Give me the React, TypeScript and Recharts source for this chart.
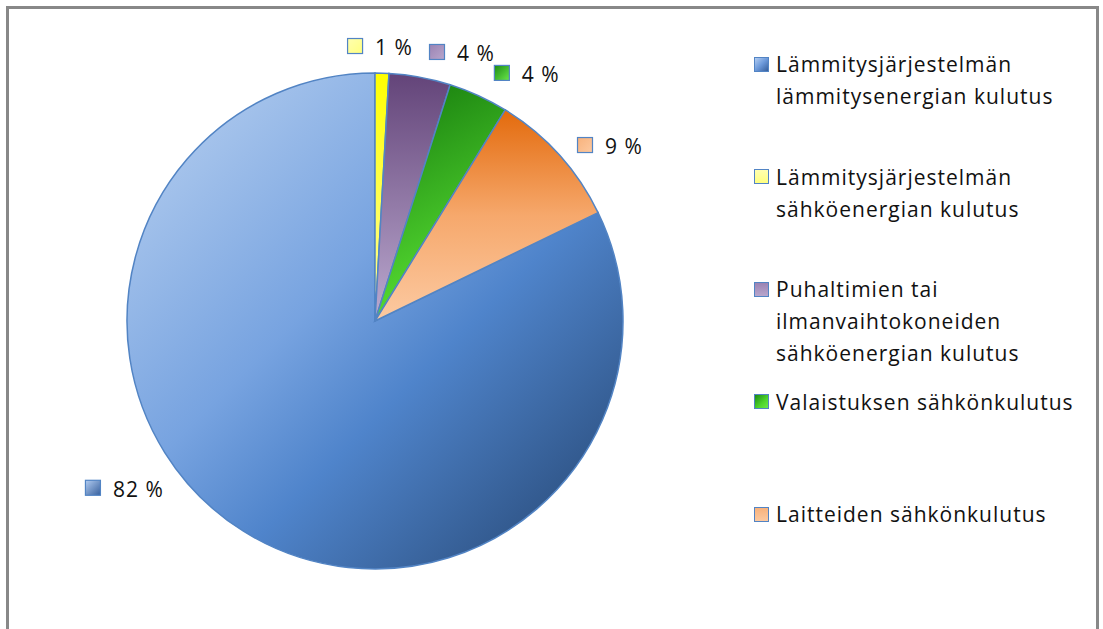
import React from 'react';
import { PieChart, Pie, Cell, Legend } from 'recharts';

const NAMES = [
  'Lämmitysjärjestelmän lämmitysenergian kulutus',
  'Lämmitysjärjestelmän sähköenergian kulutus',
  'Puhaltimien tai ilmanvaihtokoneiden sähköenergian kulutus',
  'Valaistuksen sähkönkulutus',
  'Laitteiden sähkönkulutus',
];
const VALUES = [82.2, 0.9, 4.0, 3.9, 9.0];
const LABELS = ['82 %', '1 %', '4 %', '4 %', '9 %'];

// slice gradients (top -> bottom of each slice)
const SLICE_GRADS = [
  { id: 'g-blue', x2: 1, y2: 1, stops: [['0', '#bcd3f1'], ['0.42', '#77a3e0'], ['0.6', '#4f84cb'], ['1', '#22416b']] },
  { id: 'g-yellow', x2: 0, y2: 1, stops: [['0', '#ffff00'], ['1', '#ffffa0']] },
  { id: 'g-purple', x2: 0, y2: 1, stops: [['0', '#634479'], ['1', '#bcaad0']] },
  { id: 'g-green', x2: 0.3, y2: 1, stops: [['0', '#14780c'], ['1', '#5ae234']] },
  { id: 'g-orange', x2: 0, y2: 1, stops: [['0', '#e36a0c'], ['0.5', '#f6a86c'], ['1', '#fccaa2']] },
];
const MARKER_BG = [
  'linear-gradient(135deg, #b3cdf2 0%, #6c99da 50%, #365f9c 100%)',
  'linear-gradient(180deg, #ffffb0 0%, #ffff80 100%)',
  'linear-gradient(180deg, #9b83b3 0%, #b8a6cc 100%)',
  'linear-gradient(135deg, #1c8a14 0%, #4fd52c 60%, #6ae84a 100%)',
  'linear-gradient(180deg, #f8b27c 0%, #fcc9a0 100%)',
];
const MARKER_GRAD = [
  ['#b3cdf2', '#365f9c'],
  ['#ffffb0', '#ffff80'],
  ['#9b83b3', '#b8a6cc'],
  ['#1c8a14', '#6ae84a'],
  ['#f8b27c', '#fcc9a0'],
];
// label placement (left-middle of the marker): [angle in degrees, distance from centre]
const LABEL_POS = [
  [-150.1, 334.6],
  [95.8, 276.4],
  [78.65, 274.4],
  [64.4, 275.1],
  [41.06, 267.9],
];

const data = NAMES.map((name, i) => ({ name, value: VALUES[i] }));
const total = VALUES.reduce((a, b) => a + b, 0);
const START = 90 - 360 * (1 - VALUES[0] / total);

const FONT = '"Open Sans", sans-serif';
const STROKE = '#5284c4';

const renderLabel = ({ cx, cy, index }: any) => {
  const [ang, r] = LABEL_POS[index];
  const rad = (ang * Math.PI) / 180;
  const left = cx + r * Math.cos(rad);
  const y = cy - r * Math.sin(rad);
  return (
    <g key={`lbl-${index}`}>
      <rect x={left + 0.5} y={y - 7.5} width={15} height={15} fill={`url(#m-grad-${index})`} stroke={STROKE} strokeWidth={1.2} />
      <text x={left + 28} y={y + 1} dominantBaseline="central" fontSize={21} fontFamily={FONT} fill="#111" letterSpacing={1}>
        {LABELS[index]}
      </text>
    </g>
  );
};

const renderLegend = () => (
  <div style={{ fontFamily: FONT, fontSize: 21, letterSpacing: 1, color: '#111' }}>
    {NAMES.map((name, i) => (
      <div key={name} style={{ position: 'relative', height: 112.5, paddingLeft: 22 }}>
        <span
          style={{
            position: 'absolute',
            left: 0,
            top: 8.5,
            width: 13,
            height: 13,
            background: MARKER_BG[i],
            border: `1px solid ${STROKE}`,
          }}
        />
        <div style={{ width: 320, lineHeight: '32px' }}>{name}</div>
      </div>
    ))}
  </div>
);

export default function App() {
  return (
    <div style={{ position: 'absolute', left: 0, top: 0, width: 1103, height: 629, overflow: 'hidden', background: '#fff' }}>
      <div style={{ position: 'absolute', left: 6, top: 6, width: 1087, height: 700, border: '3px solid #888' }} />
      <PieChart
        width={1103}
        height={629}
        margin={{ top: 0, right: 0, bottom: 0, left: 0 }}
        style={{ position: 'absolute', left: 0, top: 0 }}
      >
        <defs>
          {SLICE_GRADS.map((g) => (
            <linearGradient key={g.id} id={g.id} x1="0" y1="0" x2={g.x2} y2={g.y2}>
              {g.stops.map(([o, c]) => (
                <stop key={o} offset={o} stopColor={c} />
              ))}
            </linearGradient>
          ))}
          {MARKER_GRAD.map(([a, b], i) => (
            <linearGradient key={`m-grad-${i}`} id={`m-grad-${i}`} x1="0" y1="0" x2="1" y2="1">
              <stop offset="0" stopColor={a} />
              <stop offset="1" stopColor={b} />
            </linearGradient>
          ))}
        </defs>
        <Pie
          data={data}
          dataKey="value"
          nameKey="name"
          cx={375}
          cy={321}
          outerRadius={248}
          startAngle={START}
          endAngle={START - 360}
          stroke={STROKE}
          strokeWidth={1.5}
          label={renderLabel}
          labelLine={false}
          isAnimationActive={false}
        >
          {data.map((entry, index) => (
            <Cell key={`cell-${index}`} fill={`url(#${SLICE_GRADS[index].id})`} />
          ))}
        </Pie>
        <Legend
          content={renderLegend}
          layout="vertical"
          wrapperStyle={{ position: 'absolute', left: 754, top: 48, width: 345 }}
        />
      </PieChart>
    </div>
  );
}
